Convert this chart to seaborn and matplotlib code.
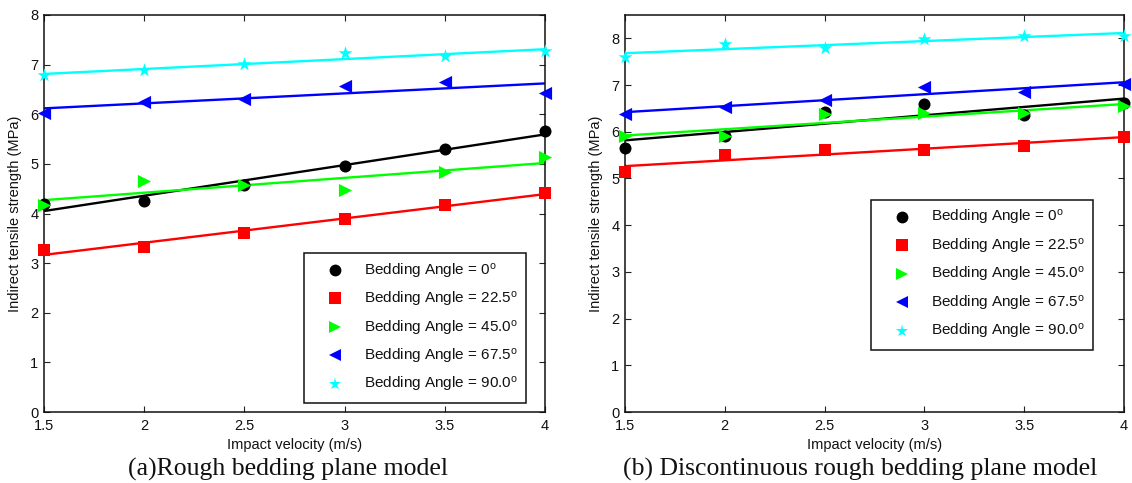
import numpy as np
import pandas as pd
import matplotlib
matplotlib.use("Agg")
import matplotlib.pyplot as plt
import seaborn as sns
from matplotlib.lines import Line2D

# ---------------- data ----------------
velocity = [1.5, 2.0, 2.5, 3.0, 3.5, 4.0]
angles = ["0", "22.5", "45.0", "67.5", "90.0"]

# (a) Rough bedding plane model
rough_0 = [4.20, 4.25, 4.57, 4.96, 5.29, 5.66]
rough_225 = [3.27, 3.32, 3.60, 3.89, 4.18, 4.41]
rough_45 = [4.18, 4.65, 4.58, 4.48, 4.83, 5.14]
rough_675 = [6.02, 6.25, 6.30, 6.57, 6.65, 6.43]
rough_90 = [6.79, 6.89, 7.01, 7.23, 7.18, 7.27]

# (b) Discontinuous rough bedding plane model
disc_0 = [5.66, 5.92, 6.43, 6.60, 6.35, 6.62]
disc_225 = [5.14, 5.50, 5.61, 5.61, 5.70, 5.89]
disc_45 = [5.90, 5.92, 6.37, 6.40, 6.40, 6.55]
disc_675 = [6.38, 6.53, 6.69, 6.96, 6.85, 7.03]
disc_90 = [7.60, 7.88, 7.80, 7.99, 8.06, 8.06]

xticks = [1.5, 2, 2.5, 3, 3.5, 4]
xtick_labels = ["1.5", "2", "2.5", "3", "3.5", "4"]
captions = ["(a)Rough bedding plane model", "(b) Discontinuous rough bedding plane model"]
xlabel = "Impact velocity (m/s)"
ylabel = "Indirect tensile strength (MPa)"

# ---------------- style ----------------
sns.set_theme(style="white")
plt.rcParams["font.family"] = ["Liberation Sans", "DejaVu Sans"]
plt.rcParams["mathtext.fontset"] = "custom"
plt.rcParams["mathtext.rm"] = "Liberation Sans"
plt.rcParams["mathtext.it"] = "Liberation Sans"

colors = ["#000000", "#FF0000", "#00FF00", "#0000FF", "#00FFFF"]
markers = ["o", "s", ">", "<", "*"]
msizes = [75, 65, 90, 90, 110]
leg_ms = [8.5, 8.0, 9.0, 9.0, 9.5]

fig = plt.figure(figsize=(11.32, 4.83), dpi=100)
W, H = 1132, 483
ax_a = fig.add_axes([44 / W, 1 - 412 / H, (545 - 44) / W, 397 / H])
ax_b = fig.add_axes([625 / W, 1 - 412 / H, (1124 - 625) / W, 397 / H])

panels = [
    (ax_a, [rough_0, rough_225, rough_45, rough_675, rough_90], (0, 8),
     [0, 1, 2, 3, 4, 5, 6, 7, 8], (0.519, 0.40)),
    (ax_b, [disc_0, disc_225, disc_45, disc_675, disc_90], (0, 8.5),
     [0, 1, 2, 3, 4, 5, 6, 7, 8], (0.493, 0.534)),
]

for ax, series, ylim, yticks, leg_anchor in panels:
    for vals, c, m, s in zip(series, colors, markers, msizes):
        df = pd.DataFrame({"v": velocity, "s": vals})
        sns.regplot(data=df, x="v", y="s", ax=ax, ci=None, color=c, marker=m,
                    scatter_kws={"s": s, "linewidths": 0, "zorder": 3,
                                 "alpha": 1, "clip_on": False},
                    line_kws={"linewidth": 1.7, "zorder": 2})
    ax.set_xlim(1.5, 4)
    ax.set_ylim(*ylim)
    ax.set_xticks(xticks)
    ax.set_xticklabels(xtick_labels)
    ax.set_yticks(yticks)
    ax.set_yticklabels([str(t) for t in yticks])
    ax.tick_params(direction="in", length=4, width=0.8, colors="#222222",
                   labelsize=10.5, labelcolor="#111111",
                   top=True, right=True, left=True, bottom=True)
    ax.tick_params(axis="x", pad=5)
    ax.tick_params(axis="y", pad=4)
    for sp in ax.spines.values():
        sp.set_visible(True)
        sp.set_color("#111111")
        sp.set_linewidth(1.1)
    ax.set_xlabel(xlabel, fontsize=10.5, color="#111111")
    ax.set_ylabel(ylabel, fontsize=10.5, color="#111111")
    ax.xaxis.set_label_coords(0.5, -26 / 397)
    ax.yaxis.set_label_coords(-22 / 500, 0.5)
    ax.grid(False)

    handles = [Line2D([], [], linestyle="none", marker=m, color=c,
                      markersize=ms, markeredgewidth=0)
               for c, m, ms in zip(colors, markers, leg_ms)]
    labels = [r"Bedding Angle = " + a + r"$^{\mathrm{o}}$" for a in angles]
    leg = ax.legend(handles, labels, loc="upper left", bbox_to_anchor=leg_anchor,
                    fontsize=11, frameon=True, fancybox=False, framealpha=1,
                    edgecolor="#111111", borderpad=0.55, handlelength=3.0,
                    handletextpad=0.35, labelspacing=0.62, borderaxespad=0)
    leg.get_frame().set_linewidth(1.1)
    for t in leg.get_texts():
        t.set_color("#111111")

fig.text(288 / W, 1 - 469 / H, captions[0], ha="center", va="center",
         fontsize=18.5, family=["Liberation Serif", "DejaVu Serif"], color="#111111")
fig.text(860 / W, 1 - 469 / H, captions[1], ha="center", va="center",
         fontsize=18.5, family=["Liberation Serif", "DejaVu Serif"], color="#111111")

fig.savefig("out.png", dpi=100, facecolor="white")
